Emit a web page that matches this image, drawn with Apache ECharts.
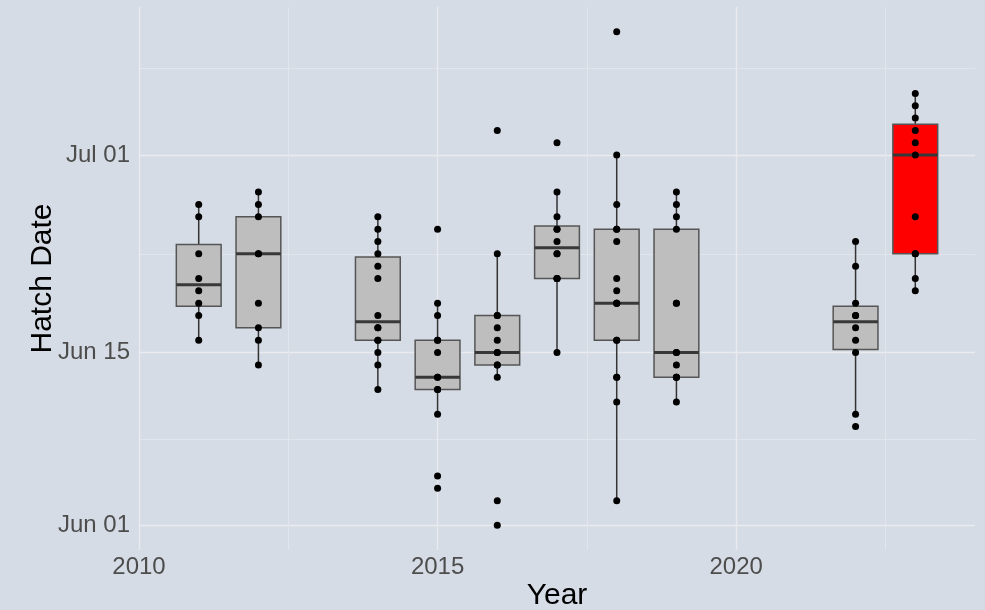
<!DOCTYPE html>
<html>
<head>
<meta charset="utf-8">
<script src="https://cdn.jsdelivr.net/npm/echarts@6/dist/echarts.min.js"></script>
<style>
  html, body { margin: 0; padding: 0; background: #d6dce5; }
  #chart { width: 985px; height: 610px; }
</style>
</head>
<body>
<div id="chart"></div>
<script>
// hatch dates, counted in days after Jun 01
var years = [2011, 2012, 2014, 2015, 2016, 2017, 2018, 2019, 2022, 2023];
var d2011 = [15, 17, 18, 19, 20, 22, 25, 26];
var d2012 = [13, 15, 16, 18, 22, 22, 25, 26, 27];
var d2014 = [11, 13, 14, 15, 15, 16, 16, 17, 20, 21, 22, 23, 24, 25];
var d2015 = [3, 4, 9, 11, 11, 12, 12, 14, 15, 15, 17, 18, 24];
var d2016 = [0, 2, 12, 13, 13, 14, 14, 15, 16, 17, 17, 22, 32];
var d2017 = [14, 20, 20, 20, 22, 22, 23, 24, 24, 25, 27, 31];
var d2018 = [2, 10, 12, 12, 15, 15, 18, 18, 18, 19, 20, 23, 24, 24, 26, 30, 40];
var d2019 = [10, 12, 12, 12, 13, 14, 14, 18, 18, 24, 25, 26, 27];
var d2022 = [8, 9, 14, 15, 16, 17, 17, 18, 21, 23];
var d2023 = [19, 20, 22, 22, 25, 30, 31, 32, 33, 34, 35];
var hatchDays = [d2011, d2012, d2014, d2015, d2016, d2017, d2018, d2019, d2022, d2023];
var highlightYear = 2023;

var xTicks = [2010, 2015, 2020];
var xMinor = [2012.5, 2017.5, 2022.5];
var yTicks = [0, 14, 30];
var yTickLabels = ['Jun 01', 'Jun 15', 'Jul 01'];
var yMinor = [7, 22, 37];

// type 7 quantile, same as R
function quantile(s, p) {
  var h = (s.length - 1) * p;
  var lo = Math.floor(h);
  var hi = Math.min(lo + 1, s.length - 1);
  return s[lo] + (h - lo) * (s[hi] - s[lo]);
}

// ggplot style: whiskers stop at the last point inside 1.5 * IQR
function boxStats(vals) {
  var s = vals.slice().sort(function (a, b) { return a - b; });
  var q1 = quantile(s, 0.25), med = quantile(s, 0.5), q3 = quantile(s, 0.75);
  var iqr = q3 - q1;
  var inside = s.filter(function (v) {
    return v >= q1 - 1.5 * iqr && v <= q3 + 1.5 * iqr;
  });
  return [inside[0], q1, med, q3, inside[inside.length - 1]];
}

var boxData = years.map(function (y, i) {
  return [y].concat(boxStats(hatchDays[i])).concat([y === highlightYear ? 1 : 0]);
});

var pointData = [];
years.forEach(function (y, i) {
  hatchDays[i].forEach(function (d) { pointData.push([y, d]); });
});

function renderBox(params, api) {
  var x = api.value(0);
  var half = api.size([0.75, 0])[0] / 2;
  var low = api.coord([x, api.value(1)]);
  var q1 = api.coord([x, api.value(2)]);
  var med = api.coord([x, api.value(3)]);
  var q3 = api.coord([x, api.value(4)]);
  var high = api.coord([x, api.value(5)]);
  var fill = api.value(6) ? '#ff0000' : '#bebebe';
  var whisker = { stroke: '#333333', lineWidth: 1.5 };
  return {
    type: 'group',
    children: [
      { type: 'line', shape: { x1: low[0], y1: low[1], x2: q1[0], y2: q1[1] }, style: whisker },
      { type: 'line', shape: { x1: q3[0], y1: q3[1], x2: high[0], y2: high[1] }, style: whisker },
      {
        type: 'rect',
        shape: { x: q3[0] - half, y: q3[1], width: half * 2, height: q1[1] - q3[1] },
        style: { fill: fill, stroke: '#555555', lineWidth: 1.5 }
      },
      {
        type: 'line',
        shape: { x1: med[0] - half, y1: med[1], x2: med[0] + half, y2: med[1] },
        style: { stroke: '#383838', lineWidth: 3 }
      }
    ]
  };
}

var font = 'Liberation Sans, Arial, sans-serif';
var majorLine = { color: '#e9ebf0', width: 1.3 };
var minorLine = { color: '#e2e6ec', width: 1 };

var chart = echarts.init(document.getElementById('chart'));
chart.setOption({
  backgroundColor: '#d6dce5',
  animation: false,
  grid: { left: 139, right: 10, top: 7, bottom: 60, containLabel: false, outerBoundsMode: 'none' },
  xAxis: [{
    type: 'value',
    min: 2010,
    max: 2024,
    name: 'Year',
    nameLocation: 'middle',
    nameGap: 31,
    nameMoveOverlap: false,
    nameTextStyle: { color: '#000', fontSize: 30, fontFamily: font },
    axisLine: { show: false },
    axisTick: { show: false, customValues: xTicks },
    axisLabel: {
      customValues: xTicks,
      margin: 5,
      color: '#4d4d4d',
      fontSize: 24,
      fontFamily: font,
      formatter: function (v) { return String(v); }
    },
    splitLine: { show: true, lineStyle: majorLine }
  }, {
    type: 'value',
    min: 2010,
    max: 2024,
    position: 'bottom',
    axisLine: { show: false },
    axisTick: { show: false, customValues: xMinor },
    axisLabel: { show: false },
    splitLine: { show: true, lineStyle: minorLine }
  }],
  yAxis: [{
    type: 'value',
    min: -2,
    max: 42,
    name: 'Hatch Date',
    nameLocation: 'middle',
    nameRotate: 90,
    nameGap: 81,
    nameMoveOverlap: false,
    nameTextStyle: { color: '#000', fontSize: 30, fontFamily: font },
    axisLine: { show: false },
    axisTick: { show: false, customValues: yTicks },
    axisLabel: {
      customValues: yTicks,
      margin: 9,
      color: '#4d4d4d',
      fontSize: 24,
      fontFamily: font,
      formatter: function (v) { return yTickLabels[yTicks.indexOf(v)]; }
    },
    splitLine: { show: true, lineStyle: majorLine }
  }, {
    type: 'value',
    min: -2,
    max: 42,
    position: 'left',
    axisLine: { show: false },
    axisTick: { show: false, customValues: yMinor },
    axisLabel: { show: false },
    splitLine: { show: true, lineStyle: minorLine }
  }],
  series: [{
    type: 'custom',
    renderItem: renderBox,
    encode: { x: 0, y: [1, 2, 3, 4, 5] },
    data: boxData,
    z: 2
  }, {
    type: 'scatter',
    symbol: 'circle',
    symbolSize: 7,
    itemStyle: { color: '#000000', opacity: 1 },
    data: pointData,
    z: 3
  }]
});
</script>
</body>
</html>
